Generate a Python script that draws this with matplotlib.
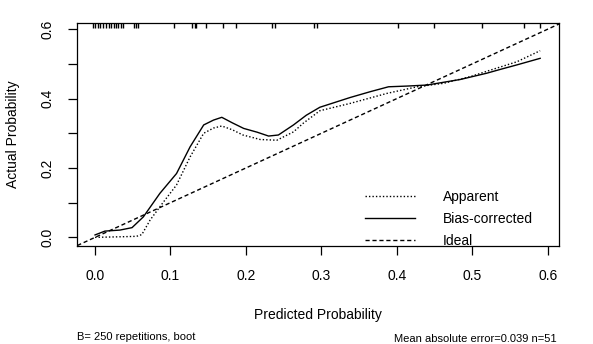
import matplotlib
matplotlib.use("Agg")
import matplotlib.pyplot as plt
import matplotlib.transforms as mtransforms

plt.rcParams["font.family"] = ["Liberation Sans", "DejaVu Sans"]

# apparent calibration curve
app_x = [0, 0.02, 0.04, 0.055, 0.062, 0.073, 0.09, 0.108, 0.126, 0.144, 0.157, 0.168,
         0.182, 0.196, 0.219, 0.241, 0.263, 0.276, 0.298, 0.338, 0.387, 0.427, 0.462,
         0.497, 0.524, 0.559, 0.59]
app_y = [0, 0.001, 0.002, 0.003, 0.008, 0.05, 0.10, 0.151, 0.232, 0.30, 0.315, 0.321,
         0.31, 0.295, 0.282, 0.28, 0.304, 0.329, 0.365, 0.386, 0.415, 0.434, 0.444,
         0.463, 0.482, 0.506, 0.538]

# bias-corrected curve
bc_x = [0, 0.013, 0.033, 0.049, 0.064, 0.086, 0.108, 0.126, 0.144, 0.157, 0.168, 0.182,
        0.197, 0.215, 0.23, 0.243, 0.263, 0.28, 0.298, 0.338, 0.365, 0.389, 0.413, 0.44,
        0.484, 0.519, 0.537, 0.559, 0.59]
bc_y = [0.007, 0.018, 0.021, 0.028, 0.059, 0.127, 0.184, 0.261, 0.324, 0.338, 0.346, 0.33,
        0.314, 0.303, 0.292, 0.295, 0.324, 0.352, 0.375, 0.403, 0.42, 0.434, 0.436, 0.439,
        0.455, 0.473, 0.484, 0.497, 0.516]

# predicted values shown as rug on top
rug_x = [-0.003, 0.0, 0.004, 0.007, 0.011, 0.014, 0.018, 0.021, 0.025, 0.028, 0.031,
         0.035, 0.037, 0.052, 0.054, 0.057, 0.105, 0.129, 0.132, 0.134, 0.147, 0.170,
         0.187, 0.235, 0.239, 0.290, 0.294, 0.402, 0.449, 0.513, 0.568, 0.590]

xticks = [0.0, 0.1, 0.2, 0.3, 0.4, 0.5, 0.6]
yticks = [0.0, 0.1, 0.2, 0.3, 0.4, 0.5, 0.6]
ytick_labels = ["0.0", "", "0.2", "", "0.4", "", "0.6"]

fig = plt.figure(figsize=(5.93, 3.44), dpi=100)
ax = fig.add_axes([0.1304, 0.2858, 0.8123, 0.6465])

lw = 1.0
ax.plot(app_x, app_y, color="black", lw=lw, linestyle=(0, (1, 1.5)), label="Apparent")
ax.plot(bc_x, bc_y, color="black", lw=lw, linestyle="-", label="Bias-corrected")
ax.axline((0, 0), slope=1, color="black", lw=lw, linestyle=(0, (3, 2)), label="Ideal")

trans = mtransforms.blended_transform_factory(ax.transData, ax.transAxes)
ax.vlines(rug_x, 0.978, 1.0, transform=trans, color="black", lw=1.0)

ax.set_xlim(-0.0235, 0.615)
ax.set_ylim(-0.024, 0.617)
ax.set_xticks(xticks)
ax.set_xticklabels([f"{v:.1f}" for v in xticks])
ax.set_yticks(yticks)
ax.set_yticklabels(ytick_labels)
ax.tick_params(direction="out", length=6.5, width=0.9, pad=10, labelsize=10, colors="black")
for lab in ax.get_yticklabels():
    lab.set_rotation(90)
    lab.set_va("center")
for sp in ax.spines.values():
    sp.set_linewidth(0.9)

ax.set_xlabel("Predicted Probability", fontsize=10, va="top")
ax.xaxis.set_label_coords(0.5, -0.278)
ax.set_ylabel("Actual Probability", fontsize=10, va="center")
ax.yaxis.set_label_coords(-0.1345, 0.5)

ax.legend(loc="upper left", bbox_to_anchor=(0.598, 0.252), frameon=False, fontsize=10,
          handlelength=3.6, handletextpad=2.0, labelspacing=0.58, borderpad=0,
          borderaxespad=0)

fig.text(77 / 593, 1 - 340 / 344, "B= 250 repetitions, boot", fontsize=8,
         ha="left", va="baseline")
fig.text(557 / 593, 1 - 341.5 / 344, "Mean absolute error=0.039 n=51", fontsize=8,
         ha="right", va="baseline")

fig.savefig("out.png", dpi=100)
